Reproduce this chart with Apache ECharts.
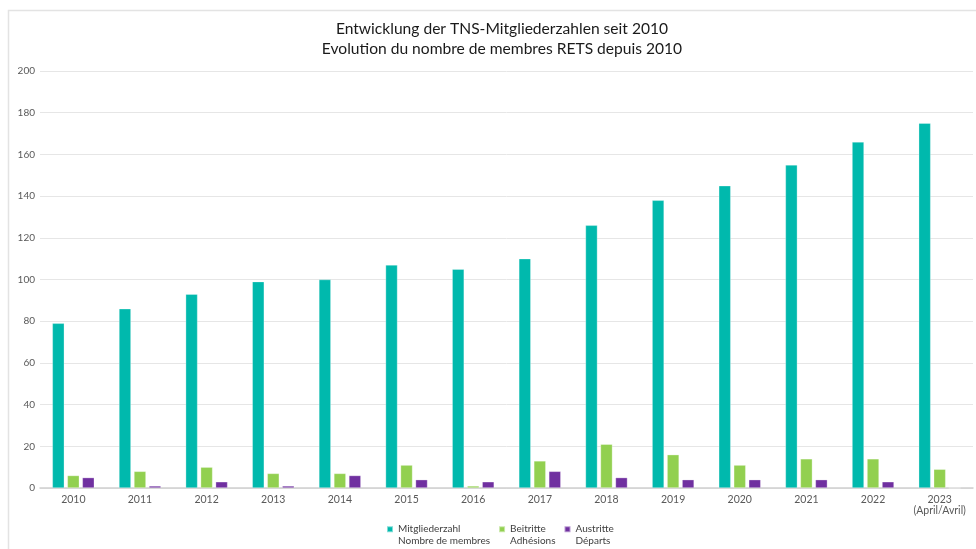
<!DOCTYPE html>
<html><head><meta charset="utf-8">
<script src="https://cdn.jsdelivr.net/npm/echarts@6/dist/echarts.min.js"></script>
<style>html,body{margin:0;padding:0;background:#fff}#c{width:976px;height:549px}</style>
</head><body><div id="c"></div>
<script>
const years = ['2010','2011','2012','2013','2014','2015','2016','2017','2018','2019','2020','2021','2022','2023\n(April/Avril)'];
const mitglieder = [79,86,93,99,100,107,105,110,126,138,145,155,166,175];
const beitritte = [6,8,10,7,7,11,1,13,21,16,11,14,14,9];
const austritte = [5,1,3,1,6,4,3,8,5,4,4,4,3,0];
const yTicks = [0,20,40,60,80,100,120,140,160,180,200];
const seriesNames = ['Mitgliederzahl\nNombre de membres','Beitritte\nAdhésions','Austritte\nDéparts'];
const colors = ['#00B9AD','#92D050','#7030A0'];
const font = 'Lato, "Open Sans", sans-serif';
const chart = echarts.init(document.getElementById('c'));
const mk = (name, data, color) => ({
  name, type:'bar', data, barWidth:12, barGap:'25%',
  itemStyle:{color, borderColor:'rgba(255,255,255,0.5)', borderWidth:0.6}
});
chart.setOption({
  animation:false,
  textStyle:{fontFamily:font},
  graphic:[{type:'polyline', shape:{points:[[8.5,560],[8.5,10.5],[980,10.5]]}, style:{stroke:'#e3e3e3', lineWidth:1.5, fill:null}}],
  title:{text:'Entwicklung der TNS-Mitgliederzahlen seit 2010\nEvolution du nombre de membres RETS depuis 2010',
    left:497, textAlign:'center', top:14,
    textStyle:{fontFamily:font, fontSize:15.6, fontWeight:'normal', color:'#1a1a1a', lineHeight:20}},
  legend:{top:512, left:386, padding:0, itemWidth:6, itemHeight:6, itemGap:8, icon:'rect',
    formatter: n => ' \n' + n,
    textStyle:{fontFamily:font, fontSize:10, color:'#404040', lineHeight:11.5}},
  grid:{left:40, right:3, top:71, bottom:61},
  xAxis:{type:'category', data:years,
    axisLine:{lineStyle:{color:'#d0d0d0', width:1.5}}, axisTick:{show:false},
    axisLabel:{color:'#595959', fontSize:10.5, margin:6, lineHeight:11, interval:0}},
  yAxis:{type:'value', min:0, max:200, interval:20,
    axisLine:{show:false}, axisTick:{show:false},
    splitLine:{lineStyle:{color:'#e6e6e6', width:1}},
    axisLabel:{color:'#595959', fontSize:10, margin:5, customValues:yTicks}},
  series:[mk(seriesNames[0], mitglieder, colors[0]), mk(seriesNames[1], beitritte, colors[1]), mk(seriesNames[2], austritte, colors[2])]
});
</script></body></html>
